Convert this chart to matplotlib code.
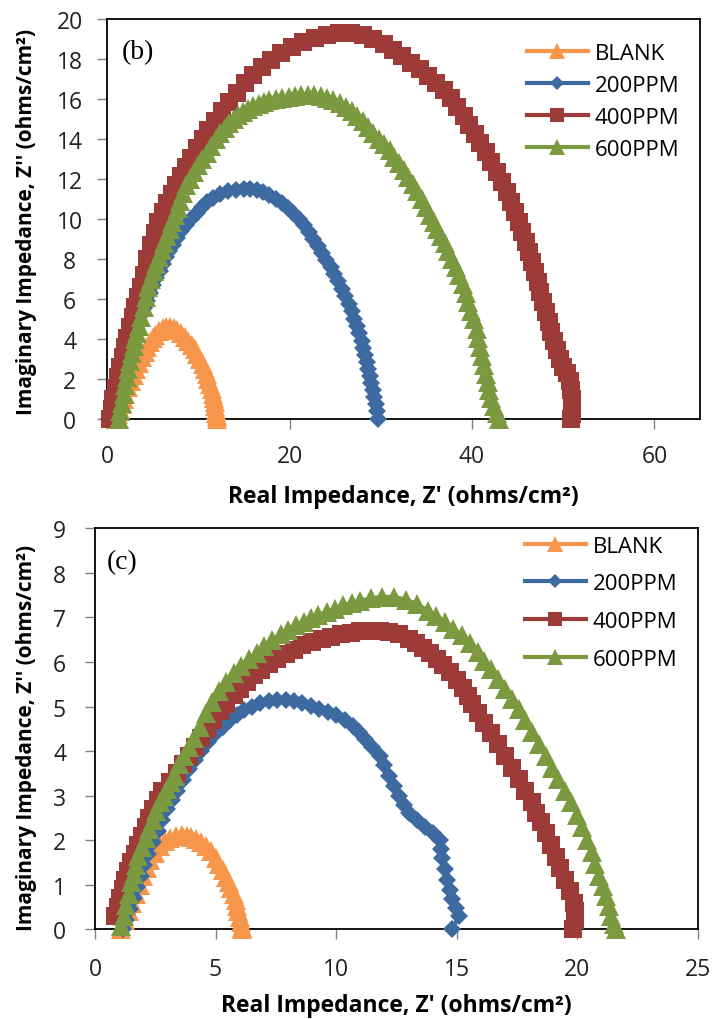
import matplotlib
matplotlib.use("Agg")
import matplotlib.pyplot as plt

plt.rcParams['font.family'] = ['Open Sans', 'DejaVu Sans']

labels = ["BLANK", "200PPM", "400PPM", "600PPM"]
colors = ["#F7964A", "#3D6AA0", "#9C3B38", "#7B9A3F"]
markers = ["^", "D", "s", "^"]
msizes = [14, 9.5, 12.5, 14]

# ---- panel (b) ----
b_blank_x = [1.0, 1.2, 1.4, 1.6, 1.8, 2.0, 2.3, 2.6, 2.9, 3.2, 3.5, 3.8, 4.1, 4.4, 4.7,
             5.0, 5.3, 5.7, 6.1, 6.5, 6.9, 7.3, 7.7, 8.1, 8.5, 8.9, 9.3, 9.6, 9.9, 10.2,
             10.5, 10.7, 10.9, 11.1, 11.3, 11.45, 11.6, 11.7, 11.8, 11.85, 11.9, 11.95, 12.0, 12.0]
b_blank_y = [0.0, 0.25, 0.5, 0.75, 1.0, 1.25, 1.6, 1.9, 2.2, 2.5, 2.8, 3.1, 3.35, 3.6, 3.85,
             4.05, 4.2, 4.4, 4.55, 4.6, 4.6, 4.55, 4.45, 4.3, 4.1, 3.9, 3.7, 3.5, 3.25, 3.0,
             2.75, 2.5, 2.25, 2.0, 1.75, 1.5, 1.25, 1.05, 0.85, 0.65, 0.45, 0.3, 0.15, 0.0]

b_200_x = [0.2, 0.45, 0.7, 0.95, 1.2, 1.5, 1.8, 2.1, 2.4, 2.65, 2.95, 3.2, 3.45, 3.75, 4.05,
           4.35, 4.7, 5.05, 5.4, 5.75, 6.1, 6.45, 6.8, 7.2, 7.65, 8.15, 8.65, 9.2, 9.8, 10.4,
           10.9, 11.6, 12.4, 13.2, 14.1, 15.0, 15.7, 16.4, 17.1, 17.8, 18.5, 19.2, 19.8, 20.4, 21.0,
           21.6, 22.1, 22.6, 23.1, 23.6, 24.0, 24.5, 24.9, 25.3, 25.7, 26.1, 26.5, 26.8, 27.1, 27.4,
           27.6, 27.9, 28.1, 28.3, 28.5, 28.65, 28.8, 28.95, 29.1, 29.3, 29.45, 29.6, 29.7]
b_200_y = [0.0, 0.4, 0.8, 1.2, 1.6, 2.0, 2.45, 2.9, 3.3, 3.7, 4.1, 4.5, 4.85, 5.2, 5.55,
           5.9, 6.3, 6.7, 7.05, 7.4, 7.75, 8.1, 8.4, 8.7, 9.05, 9.4, 9.7, 10.0, 10.3, 10.6,
           10.85, 11.05, 11.25, 11.4, 11.45, 11.5, 11.5, 11.45, 11.35, 11.2, 11.0, 10.8, 10.55, 10.3, 10.0,
           9.7, 9.35, 9.0, 8.65, 8.3, 7.95, 7.6, 7.25, 6.9, 6.5, 6.15, 5.75, 5.4, 5.0, 4.65,
           4.3, 3.9, 3.55, 3.2, 2.85, 2.5, 2.15, 1.8, 1.45, 1.1, 0.75, 0.4, 0.0]

b_400_x = [0.3, 0.5, 0.7, 0.95, 1.2, 1.45, 1.7, 1.95, 2.2, 2.5, 2.8, 3.1, 3.4, 3.7, 4.0,
           4.4, 4.8, 5.2, 5.6, 6.1, 6.6, 7.1, 7.6, 8.1, 8.6, 9.2, 9.9, 10.5, 11.1, 11.8,
           12.6, 13.4, 14.2, 15.1, 16.0, 17.0, 18.0, 19.1, 20.3, 21.5, 22.8, 24.1, 25.4, 26.7, 28.0,
           29.2, 30.3, 31.3, 32.3, 33.3, 34.3, 35.2, 36.1, 36.9, 37.7, 38.4, 39.1, 39.7, 40.3, 40.9,
           41.5, 42.1, 42.7, 43.3, 43.8, 44.3, 44.7, 45.1, 45.5, 45.9, 46.3, 46.6, 46.9, 47.2, 47.5,
           47.8, 48.1, 48.4, 48.7, 49.0, 49.3, 49.6, 50.0, 50.4, 50.7, 50.9, 51.0, 51.0, 51.0, 50.9]
b_400_y = [0.0, 0.5, 1.0, 1.55, 2.1, 2.6, 3.1, 3.6, 4.05, 4.6, 5.1, 5.6, 6.1, 6.6, 7.2,
           8.0, 8.7, 9.3, 9.85, 10.35, 10.8, 11.25, 11.7, 12.15, 12.6, 13.05, 13.55, 14.0, 14.45, 14.9,
           15.4, 15.85, 16.3, 16.8, 17.2, 17.6, 17.95, 18.3, 18.6, 18.85, 19.05, 19.2, 19.3, 19.3, 19.2,
           19.0, 18.75, 18.45, 18.15, 17.8, 17.5, 17.15, 16.8, 16.45, 16.05, 15.6, 15.15, 14.7, 14.25, 13.8,
           13.35, 12.85, 12.35, 11.85, 11.35, 10.85, 10.35, 9.85, 9.35, 8.85, 8.35, 7.85, 7.35, 6.85, 6.35,
           5.85, 5.35, 4.85, 4.35, 3.9, 3.45, 3.0, 2.6, 2.3, 1.9, 1.45, 1.0, 0.6, 0.25, 0.0]

b_600_x = [1.3, 1.45, 1.6, 1.8, 1.95, 2.15, 2.3, 2.5, 2.7, 2.9, 3.1, 3.3, 3.5, 3.75, 4.0,
           4.25, 4.5, 4.8, 5.1, 5.4, 5.7, 6.0, 6.25, 6.55, 6.85, 7.15, 7.45, 7.75, 8.0, 8.3, 8.6,
           9.05, 9.5, 9.95, 10.4, 10.9, 11.4, 11.9, 12.4, 12.9, 13.4, 13.9, 14.4, 14.9, 15.4, 16.0,
           16.6, 17.2, 17.8, 18.5, 19.2, 19.9, 20.6, 21.3, 22.0, 22.7, 23.4, 24.1, 24.8, 25.5, 26.2,
           26.8, 27.4, 28.0, 28.6, 29.2, 29.8, 30.4, 31.0, 31.5, 32.0, 32.5, 33.0, 33.5, 34.0, 34.5,
           35.0, 35.4, 35.8, 36.2, 36.6, 37.0, 37.4, 37.8, 38.2, 38.6, 39.0, 39.3, 39.6, 39.9, 40.2,
           40.5, 40.7, 40.9, 41.1, 41.3, 41.5, 41.7, 41.9, 42.1, 42.4, 42.7, 43.0]
b_600_y = [0.0, 0.4, 0.8, 1.25, 1.7, 2.1, 2.5, 2.9, 3.3, 3.65, 4.0, 4.3, 4.65, 5.1, 5.6,
           6.1, 6.6, 7.0, 7.4, 7.75, 8.1, 8.45, 8.8, 9.15, 9.5, 9.85, 10.2, 10.55, 10.9, 11.3, 11.7,
           12.0, 12.35, 12.7, 13.0, 13.3, 13.65, 14.0, 14.3, 14.55, 14.8, 15.0, 15.2, 15.35, 15.5, 15.65,
           15.75, 15.85, 15.95, 16.0, 16.05, 16.1, 16.15, 16.2, 16.2, 16.2, 16.15, 16.05, 15.95, 15.8, 15.6,
           15.4, 15.15, 14.9, 14.6, 14.3, 14.0, 13.75, 13.45, 13.1, 12.8, 12.45, 12.1, 11.75, 11.4, 11.0,
           10.6, 10.2, 9.85, 9.5, 9.15, 8.8, 8.4, 8.0, 7.6, 7.2, 6.75, 6.3, 5.85, 5.4, 5.0,
           4.5, 4.05, 3.6, 3.15, 2.7, 2.25, 1.85, 1.45, 1.05, 0.65, 0.3, 0.0]

# ---- panel (c) ----
c_blank_x = [1.1, 1.25, 1.4, 1.55, 1.7, 1.85, 2.0, 2.15, 2.3, 2.5, 2.7, 2.9, 3.1, 3.35, 3.6,
             3.8, 4.0, 4.2, 4.4, 4.6, 4.8, 5.0, 5.15, 5.3, 5.45, 5.55, 5.65, 5.75, 5.85, 5.9,
             5.95, 6.0, 6.05, 6.1, 6.1]
c_blank_y = [0.0, 0.2, 0.4, 0.6, 0.8, 1.0, 1.2, 1.38, 1.55, 1.72, 1.86, 1.97, 2.05, 2.1, 2.12,
             2.1, 2.07, 2.02, 1.95, 1.87, 1.75, 1.6, 1.47, 1.33, 1.18, 1.05, 0.92, 0.79, 0.66, 0.53,
             0.4, 0.28, 0.16, 0.06, 0.0]

c_200_x = [1.15, 1.3, 1.45, 1.6, 1.75, 1.9, 2.05, 2.2, 2.4, 2.6, 2.8, 3.0, 3.2, 3.4, 3.65,
           3.9, 4.15, 4.4, 4.7, 5.0, 5.3, 5.6, 5.9, 6.2, 6.5, 6.85, 7.2, 7.55, 7.9, 8.25,
           8.6, 8.95, 9.3, 9.65, 10.0, 10.35, 10.7, 10.95, 11.2, 11.5, 11.8, 12.0, 12.2, 12.4, 12.6,
           12.8, 13.0, 13.35, 13.7, 14.0, 14.3, 14.35, 14.4, 14.5, 14.6, 14.7, 14.8, 14.95, 15.1, 14.8]
c_200_y = [0.0, 0.2, 0.45, 0.7, 0.95, 1.2, 1.45, 1.7, 1.95, 2.2, 2.45, 2.7, 2.9, 3.1, 3.35,
           3.6, 3.8, 4.0, 4.2, 4.4, 4.55, 4.7, 4.82, 4.92, 5.0, 5.07, 5.12, 5.15, 5.15, 5.12,
           5.08, 5.02, 4.95, 4.88, 4.8, 4.7, 4.56, 4.42, 4.27, 4.1, 3.9, 3.68, 3.45, 3.22, 3.0,
           2.8, 2.6, 2.45, 2.3, 2.15, 2.0, 1.8, 1.6, 1.35, 1.1, 0.88, 0.67, 0.48, 0.3, 0.0]

c_400_x = [0.85, 0.95, 1.05, 1.15, 1.25, 1.35, 1.5, 1.65, 1.8, 1.95, 2.1, 2.25, 2.4, 2.6, 2.8,
           3.1, 3.4, 3.65, 3.9, 4.15, 4.4, 4.65, 4.9, 5.2, 5.45, 5.75, 6.0, 6.3, 6.6, 6.9,
           7.2, 7.55, 7.9, 8.25, 8.6, 9.0, 9.4, 9.8, 10.2, 10.6, 11.0, 11.4, 11.8, 12.2, 12.6,
           13.0, 13.3, 13.6, 13.9, 14.2, 14.45, 14.7, 15.0, 15.25, 15.45, 15.65, 15.9, 16.15, 16.4, 16.7,
           17.0, 17.3, 17.6, 17.85, 18.1, 18.3, 18.5, 18.7, 18.9, 19.1, 19.3, 19.5, 19.7, 19.85, 19.9,
           19.9, 19.8]
c_400_y = [0.3, 0.5, 0.7, 0.9, 1.1, 1.3, 1.5, 1.7, 1.9, 2.1, 2.3, 2.5, 2.7, 2.9, 3.1,
           3.3, 3.5, 3.7, 3.9, 4.1, 4.3, 4.5, 4.7, 4.9, 5.05, 5.25, 5.4, 5.55, 5.7, 5.82,
           5.95, 6.07, 6.18, 6.28, 6.38, 6.46, 6.52, 6.57, 6.62, 6.66, 6.69, 6.7, 6.7, 6.68, 6.63,
           6.52, 6.42, 6.32, 6.2, 6.07, 5.93, 5.77, 5.6, 5.42, 5.24, 5.05, 4.85, 4.63, 4.4, 4.15,
           3.9, 3.63, 3.37, 3.1, 2.85, 2.62, 2.4, 2.15, 1.9, 1.63, 1.37, 1.1, 0.85, 0.6, 0.4,
           0.2, 0.0]

c_600_x = [1.1, 1.2, 1.3, 1.4, 1.5, 1.6, 1.7, 1.8, 1.95, 2.1, 2.25, 2.4, 2.55, 2.7, 2.85,
           3.0, 3.15, 3.3, 3.5, 3.7, 3.9, 4.1, 4.35, 4.6, 4.85, 5.15, 5.45, 5.75, 6.05, 6.4,
           6.7, 7.0, 7.35, 7.7, 8.0, 8.35, 8.65, 8.95, 9.25, 9.6, 9.95, 10.3, 10.65, 11.0, 11.45,
           11.9, 12.4, 12.9, 13.35, 13.8, 14.15, 14.5, 14.85, 15.2, 15.55, 15.9, 16.15, 16.4, 16.7, 17.0,
           17.3, 17.6, 17.85, 18.1, 18.4, 18.7, 18.95, 19.2, 19.5, 19.75, 20.0, 20.2, 20.4, 20.6, 20.75,
           20.9, 21.05, 21.2, 21.3, 21.4, 21.5, 21.6]
c_600_y = [0.07, 0.3, 0.55, 0.8, 1.05, 1.25, 1.45, 1.65, 1.85, 2.05, 2.25, 2.45, 2.65, 2.85, 3.0,
           3.15, 3.3, 3.45, 3.7, 3.9, 4.1, 4.3, 4.55, 4.85, 5.1, 5.35, 5.55, 5.75, 5.92, 6.07,
           6.2, 6.35, 6.5, 6.62, 6.72, 6.82, 6.9, 6.98, 7.05, 7.13, 7.2, 7.27, 7.33, 7.38, 7.43,
           7.46, 7.46, 7.4, 7.3, 7.15, 7.03, 6.9, 6.75, 6.6, 6.42, 6.22, 6.03, 5.84, 5.62, 5.4,
           5.17, 4.94, 4.69, 4.43, 4.17, 3.9, 3.63, 3.37, 3.1, 2.85, 2.57, 2.3, 2.0, 1.73, 1.47,
           1.2, 0.97, 0.75, 0.52, 0.3, 0.12, 0.0]

b_series = [(b_blank_x, b_blank_y), (b_200_x, b_200_y), (b_400_x, b_400_y), (b_600_x, b_600_y)]
c_series = [(c_blank_x, c_blank_y), (c_200_x, c_200_y), (c_400_x, c_400_y), (c_600_x, c_600_y)]

xlabel = "Real Impedance, Z' (ohms/cm\u00b2)"
ylabel = "Imaginary Impedance, Z'' (ohms/cm\u00b2)"


def draw_panel(ax, series, xlim, xticks, ylim, yticks, tag, tag_pos,
               leg_anchor, leg_space, xlab_y, ylab_pos, xpad, ypad):
    for (xs, ys), lab, col, mk, ms in zip(series, labels, colors, markers, msizes):
        ax.plot(xs, ys, color=col, lw=3, marker=mk, ms=ms, mec=col, mew=0,
                label=lab, clip_on=False, zorder=3)
    ax.set_xlim(*xlim)
    ax.set_ylim(*ylim)
    ax.set_xticks(xticks)
    ax.set_yticks(yticks)
    for sp in ax.spines.values():
        sp.set_linewidth(1.3)
        sp.set_color("black")
    ax.tick_params(direction="out", length=7, width=1, color="#808080",
                   labelsize=16.5, labelcolor="#222222")
    ax.tick_params(axis="x", pad=xpad)
    ax.tick_params(axis="y", pad=ypad)
    plt.setp(ax.get_yticklabels(), ha="center")

    ax.text(tag_pos[0], tag_pos[1], tag, transform=ax.transAxes,
            family="Liberation Serif", fontsize=20, va="top", ha="left")

    ax.legend(loc="upper left", bbox_to_anchor=leg_anchor, frameon=False,
              fontsize=16, handlelength=2.75, handletextpad=0.3, markerscale=0.8,
              labelspacing=leg_space, borderpad=0, borderaxespad=0, numpoints=1)

    ax.set_xlabel(xlabel, fontsize=16.5, fontweight="bold")
    ax.xaxis.set_label_coords(0.5, xlab_y)
    ax.set_ylabel(ylabel, fontsize=15, fontweight="bold")
    ax.yaxis.set_label_coords(*ylab_pos)


fig = plt.figure(figsize=(7.14, 10.2), dpi=100)
ax_b = fig.add_axes([0.150, 0.588, 0.8305, 0.392])
ax_c = fig.add_axes([0.133, 0.088, 0.8445, 0.393])

draw_panel(ax_b, b_series, (0, 65), [0, 20, 40, 60], (0, 20), list(range(0, 21, 2)),
           "(b)", (0.025, 0.95), (0.708, 0.942), 0.5, -0.163, (-0.118, 0.495), 10.5, 20)
draw_panel(ax_c, c_series, (0, 25), [0, 5, 10, 15, 20, 25], (0, 9), list(range(0, 10)),
           "(c)", (0.02, 0.948), (0.713, 0.982), 0.75, -0.158, (-0.0955, 0.48), 13, 18.5)

fig.savefig("out.png", dpi=100)
